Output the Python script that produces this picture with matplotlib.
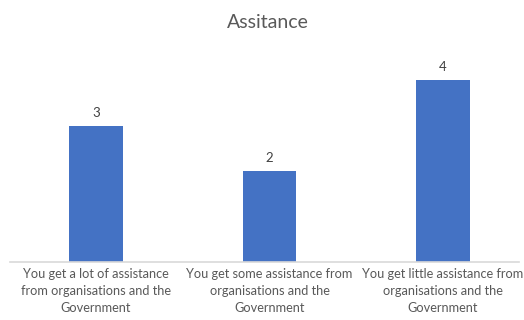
import matplotlib
matplotlib.use("Agg")
import matplotlib.pyplot as plt

categories = [
    "You get a lot of assistance\nfrom organisations and the\nGovernment",
    "You get some assistance from\norganisations and the\nGovernment",
    "You get little assistance from\norganisations and the\nGovernment",
]
values = [3, 2, 4]
title = "Assitance"

plt.rcParams['font.family'] = ['Lato', 'DejaVu Sans']

W, H = 524, 320
fig = plt.figure(figsize=(W / 100, H / 100), dpi=100)
ax = fig.add_axes([10 / W, 58 / H, 509 / W, 204.3 / H])

x = list(range(len(categories)))
bars = ax.bar(x, values, width=0.31, color="#4472C4", zorder=2)
ax.set_xlim(-0.496, 2.438)
ax.set_ylim(0, 4.5)

for xi, v in zip(x, values):
    ax.annotate(str(v), (xi, v), xytext=(0, 5), textcoords="offset points",
                ha="center", va="bottom", fontsize=9.5, color="#404040")

ax.set_xticks(x)
ax.set_xticklabels(categories, fontsize=9.2, color="#595959", linespacing=1.5)
ax.tick_params(axis="x", length=0, pad=4)
ax.set_yticks([])
for s in ["top", "right", "left"]:
    ax.spines[s].set_visible(False)
ax.spines["bottom"].set_color("#D9D9D9")
ax.spines["bottom"].set_linewidth(1.2)

fig.text(268 / W, 1 - 22 / H, title, ha="center", va="center", fontsize=14, color="#595959")

fig.savefig("out.png", dpi=100)
